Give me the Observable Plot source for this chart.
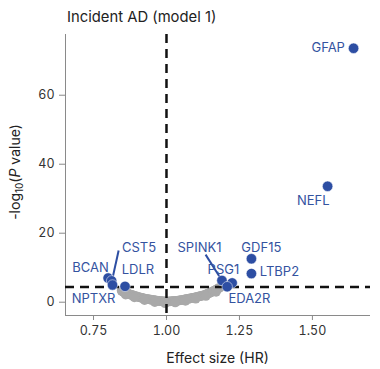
<!DOCTYPE html>
<html>
<head>
<meta charset="utf-8">
<script src="https://cdn.jsdelivr.net/npm/d3@7"></script>
<script src="https://cdn.jsdelivr.net/npm/@observablehq/plot@0.6"></script>
<style>
  html, body { margin: 0; padding: 0; background: #fff; }
  body { width: 380px; height: 369px; overflow: hidden; font-family: Inter, "Noto Sans", sans-serif; }
  #title { height: 30px; box-sizing: border-box; padding: 9px 0 0 67px; font-size: 14.8px; line-height: 16px; color: #222; }
  #chart svg { display: block; }
</style>
</head>
<body>
<div id="title">Incident AD (model 1)</div>
<div id="chart"></div>
<script>
// ---- data ----
const titleText = "Incident AD (model 1)";
const xLabel = "Effect size (HR)";
const xTicks = [0.75, 1.0, 1.25, 1.5];
const yTicks = [0, 20, 40, 60];
const xDomain = [0.654, 1.699];
const yDomain = [-3.85, 77.6];
const pThreshold = 4.4;
const hrNull = 1.0;

// significant proteins (blue)
const sigNames = ["GFAP", "NEFL", "GDF15", "LTBP2", "SPINK1", "PSG1", "EDA2R", "BCAN", "CST5", "NPTXR", "LDLR"];
const sigHR    = [1.641, 1.552, 1.291, 1.291, 1.190, 1.225, 1.208, 0.800, 0.812, 0.815, 0.858];
const sigLogP  = [73.6, 33.6, 12.6, 8.3, 6.3, 5.6, 4.5, 7.0, 6.2, 5.0, 4.6];

// label positions (data units)
const labelHR   = [1.554, 1.503, 1.325, 1.387, 1.113, 1.195, 1.284, 0.740, 0.906, 0.750, 0.902];
const labelLogP = [73.8, 29.5, 15.9, 8.9, 15.9, 9.4, 1.0, 10.1, 15.8, 1.0, 9.4];

// leader lines
const leaderNames = ["CST5", "SPINK1"];
const leaderX1 = [0.836, 1.134];
const leaderY1 = [15.0, 13.8];
const leaderX2 = [0.815, 1.188];
const leaderY2 = [6.9, 6.6];

// non-significant proteins (grey)
const greyHR = [0.846,0.852,0.858,0.864,0.870,0.876,0.882,0.888,0.894,0.900,0.907,0.914,0.921,0.928,0.935,0.942,0.949,0.956,0.963,0.970,0.977,0.984,0.991,0.998,1.005,1.012,1.019,1.026,1.033,1.040,1.047,1.054,1.061,1.068,1.075,1.082,1.089,1.096,1.103,1.110,1.117,1.124,1.131,1.138,1.145,1.152,1.159,1.166,1.173,1.180,1.187,
                0.849,0.855,0.861,0.867,0.873,0.879,0.885,0.891,0.897,0.9035,0.9105,0.9175,0.9245,0.9315,0.9385,0.9455,0.9525,0.9595,0.9665,0.9735,0.9805,0.9875,0.9945,1.0015,1.0085,1.0155,1.0225,1.0295,1.0365,1.0435,1.0505,1.0575,1.0645,1.0715,1.0785,1.0855,1.0925,1.0995,1.1065,1.1135,1.1205,1.1275,1.1345,1.1415,1.1485,1.1555,1.1625,1.1695,1.1765,1.1835,
                0.860,0.890,0.925,0.960,0.995,1.030,1.065,1.100,1.135,1.170];
const greyLogP = [3.3,3.0,2.8,2.6,2.4,2.2,2.05,1.9,1.75,1.6,1.45,1.3,1.15,1.0,0.9,0.8,0.7,0.6,0.5,0.42,0.35,0.3,0.25,0.2,0.2,0.25,0.3,0.33,0.38,0.45,0.55,0.65,0.75,0.9,1.0,1.1,1.25,1.35,1.5,1.65,1.8,1.95,2.1,2.35,2.6,2.85,3.15,3.45,3.8,4.1,4.5,
                  3.15,2.9,2.7,2.5,2.3,2.12,1.97,1.82,1.68,1.52,1.37,1.22,1.07,0.95,0.85,0.75,0.65,0.55,0.46,0.38,0.32,0.27,0.22,0.2,0.22,0.27,0.31,0.35,0.41,0.5,0.6,0.7,0.82,0.95,1.05,1.17,1.3,1.42,1.57,1.72,1.87,2.02,2.22,2.47,2.72,3.0,3.3,3.62,3.95,4.3,
                  2.2,1.4,0.6,0.0,-0.3,-0.1,0.4,1.0,1.8,3.0];

// ---- tables built from arrays ----
const sig = sigNames.map((n, i) => ({name: n, hr: sigHR[i], p: sigLogP[i], lx: labelHR[i], ly: labelLogP[i]}));
const grey = greyHR.map((h, i) => ({hr: h, p: greyLogP[i]}));
const leaders = leaderNames.map((n, i) => ({x1: leaderX1[i], y1: leaderY1[i], x2: leaderX2[i], y2: leaderY2[i]}));

const blue = "#2d4ea3";
const labelBlue = "#34539f";
const axisGrey = "#8a8a8a";

const plot = Plot.plot({
  width: 380,
  height: 339,
  marginLeft: 65,
  marginRight: 10,
  marginTop: 4,
  marginBottom: 54,
  style: {fontFamily: "Inter, 'Noto Sans', sans-serif", fontSize: "12.5px", background: "#fff", color: "#333"},
  x: {domain: xDomain},
  y: {domain: yDomain},
  marks: [
    Plot.axisX({ticks: xTicks, tickFormat: d3.format(".2f"), tickSize: 5, tickPadding: 6, stroke: axisGrey, fill: "#333", label: null}),
    Plot.axisY({ticks: yTicks, tickSize: 6, tickPadding: 5, stroke: axisGrey, fill: "#333", label: null}),
    Plot.ruleX([xDomain[0]], {stroke: axisGrey, strokeWidth: 1}),
    Plot.ruleY([yDomain[0]], {stroke: axisGrey, strokeWidth: 1}),
    Plot.dot(grey, {x: "hr", y: "p", r: 4.8, fill: "#a9a9a9", stroke: "none"}),
    Plot.ruleX([hrNull], {stroke: "#111", strokeWidth: 2.5, strokeDasharray: "9,6"}),
    Plot.ruleY([pThreshold], {stroke: "#111", strokeWidth: 2.5, strokeDasharray: "9,6"}),
    Plot.link(leaders, {x1: "x1", y1: "y1", x2: "x2", y2: "y2", stroke: blue, strokeWidth: 2}),
    Plot.dot(sig, {x: "hr", y: "p", r: 5.2, fill: blue, stroke: "#fff", strokeWidth: 0.5}),
    Plot.text(sig, {x: "lx", y: "ly", text: "name", fill: labelBlue, fontSize: 13, textAnchor: "middle", lineAnchor: "middle"})
  ]
});

const svg = d3.select(plot);
// y-axis label with subscript and italic P
const yl = svg.append("text")
  .attr("transform", "translate(20,142) rotate(-90)")
  .attr("text-anchor", "middle")
  .attr("font-size", 14)
  .attr("fill", "#222")
  .attr("font-family", "Inter, 'Noto Sans', sans-serif");
yl.append("tspan").text("-log");
yl.append("tspan").attr("font-size", 10).attr("dy", 3).text("10");
yl.append("tspan").attr("dy", -3).text("(");
yl.append("tspan").attr("font-style", "italic").text("P");
yl.append("tspan").text(" value)");

// x-axis label
svg.append("text")
  .attr("x", (65 + 370) / 2)
  .attr("y", 333)
  .attr("text-anchor", "middle")
  .attr("font-size", 14)
  .attr("fill", "#222")
  .attr("font-family", "Inter, 'Noto Sans', sans-serif")
  .text(xLabel);

document.getElementById("title").textContent = titleText;
document.getElementById("chart").appendChild(plot);
</script>
</body>
</html>
